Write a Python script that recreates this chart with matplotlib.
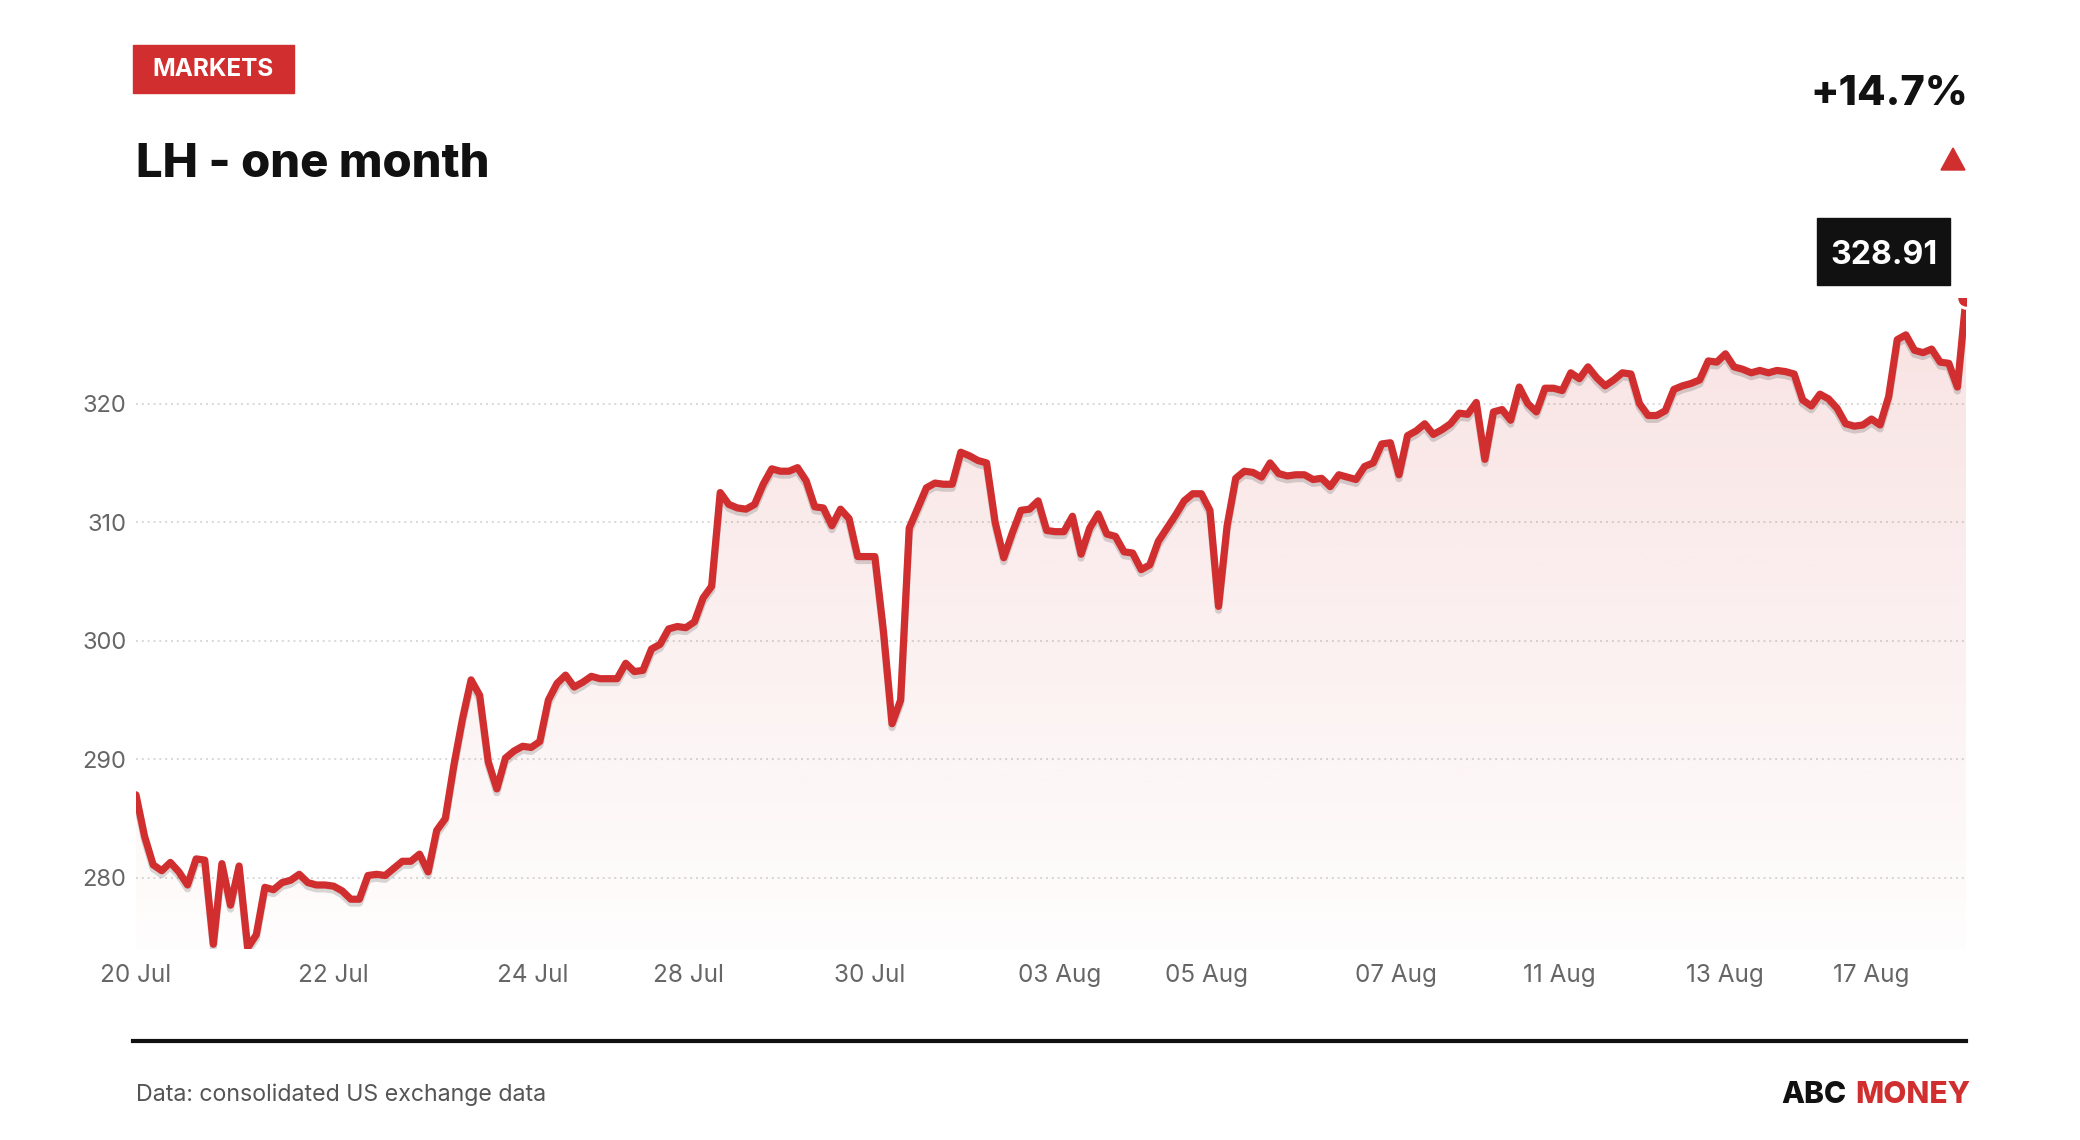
import numpy as np
import matplotlib.pyplot as plt
import matplotlib.patheffects as pe
from matplotlib.patches import Rectangle, Polygon
from matplotlib.colors import to_rgb

plt.rcParams['font.family'] = ['Inter', 'DejaVu Sans']

RED = '#d12f2f'
INK = '#111111'

# price series (one point per bar of the intraday feed)
price = [
    287.0, 283.5, 281.1, 280.6, 281.3, 280.5, 279.4, 281.6, 281.5, 274.4,
    281.2, 277.7, 281.0, 274.1, 275.2, 279.2, 279.0, 279.6, 279.8, 280.3,
    279.6, 279.4, 279.4, 279.3, 278.9, 278.2, 278.2, 280.2, 280.3, 280.2,
    280.8, 281.4, 281.4, 282.0, 280.5, 284.0, 285.0, 289.5, 293.4, 296.7,
    295.4, 289.8, 287.5, 290.1, 290.7, 291.1, 291.0, 291.5, 295.0, 296.4,
    297.1, 296.1, 296.5, 297.0,
    296.8, 296.8, 296.8, 298.1, 297.4, 297.5, 299.3, 299.7, 301.0, 301.2,
    301.1, 301.6, 303.6, 304.6, 312.5, 311.5, 311.2, 311.1, 311.5, 313.2,
    314.5, 314.3, 314.3, 314.6, 313.5, 311.3, 311.2, 309.7, 311.1, 310.3,
    307.1, 307.1, 307.1, 300.8, 293.0, 295.0, 309.5, 311.2, 312.9, 313.3,
    313.2, 313.2, 315.9, 315.6, 315.2, 315.0, 310.0, 307.0, 309.1, 311.0,
    311.1, 311.8, 309.3, 309.2,
    309.2, 310.5, 307.3, 309.5, 310.7, 309.0, 308.8, 307.5, 307.4, 306.0,
    306.4, 308.4, 309.5, 310.6, 311.8, 312.4, 312.4, 311.0, 302.9, 309.7,
    313.7, 314.3, 314.2, 313.8, 315.0, 314.1, 313.9, 314.0, 314.0, 313.6,
    313.7, 313.0, 314.0, 313.8, 313.6, 314.7, 315.0, 316.6, 316.7, 314.0,
    317.3, 317.7, 318.3, 317.4, 317.8, 318.3, 319.2, 319.1, 320.1, 315.3,
    319.3, 319.5, 318.6, 321.4,
    320.0, 319.3, 321.3, 321.3, 321.1, 322.6, 322.1, 323.1, 322.2, 321.5,
    322.0, 322.6, 322.5, 320.0, 319.0, 319.0, 319.4, 321.2, 321.5, 321.7,
    322.0, 323.6, 323.5, 324.2, 323.1, 322.9, 322.6, 322.8, 322.6, 322.8,
    322.7, 322.5, 320.3, 319.8, 320.8, 320.4, 319.6, 318.3, 318.1, 318.2,
    318.7, 318.2, 320.6, 325.4, 325.8, 324.5, 324.3, 324.6, 323.5, 323.4,
    321.4, 328.91,
]

tick_pos = [0, 23, 46.2, 64.3, 85.4, 107.5, 124.6, 146.6, 165.7, 184.9, 202]
tick_labels = ['20 Jul', '22 Jul', '24 Jul', '28 Jul', '30 Jul', '03 Aug',
               '05 Aug', '07 Aug', '11 Aug', '13 Aug', '17 Aug']
y_ticks = [280, 290, 300, 310, 320]
y_min = 274

title = 'LH - one month'
change = '+14.7%'
last_label = '328.91'

W, H = 2080, 1140
fig = plt.figure(figsize=(W / 100, H / 100), dpi=100)


def fx(px):
    return px / W


def fy(py):
    return 1 - py / H


ax = fig.add_axes([fx(136), fy(949), fx(1966) - fx(136), fy(298) - fy(949)])

x = np.arange(len(price))
y = np.array(price)
y_max = y[-1]

# gradient under the line
grad = np.zeros((256, 1, 4))
grad[..., :3] = to_rgb(RED)
grad[:, 0, 3] = np.linspace(0.01, 0.14, 256)
im = ax.imshow(grad, extent=[x[0], x[-1], y_min, y_max], origin='lower',
               aspect='auto', zorder=1, interpolation='bilinear')
area = Polygon(np.column_stack([np.r_[x[0], x, x[-1]], np.r_[y_min, y, y_min]]),
               facecolor='none', edgecolor='none', transform=ax.transData)
ax.add_patch(area)
im.set_clip_path(area)

ax.plot(x, y, color=RED, lw=5.2, solid_joinstyle='round', solid_capstyle='round',
        zorder=3, path_effects=[pe.SimpleLineShadow(offset=(0, -2.8), shadow_color='black', alpha=0.15),
                                pe.Normal()])
ax.plot(x[-1], y[-1], 'o', ms=14, color=RED, mec='white', mew=2.2, zorder=4)

ax.set_xlim(x[0], x[-1])
ax.set_ylim(y_min, y_max)
ax.set_yticks(y_ticks)
ax.set_xticks(tick_pos)
ax.set_xticklabels(tick_labels)
ax.grid(axis='y', color='#d8d8d8', lw=1.4, linestyle=(0, (1, 2)))
ax.grid(axis='x', visible=False)
ax.set_axisbelow(True)
for s in ax.spines.values():
    s.set_visible(False)
ax.tick_params(axis='both', length=0, labelcolor='#666666')
ax.tick_params(axis='y', pad=7, labelsize=17)
ax.tick_params(axis='x', pad=11, labelsize=17.5)

# header
fig.patches.append(Rectangle((fx(133), fy(93)), fx(294) - fx(133), (93 - 45) / H,
                             transform=fig.transFigure, color=RED))
fig.text(fx(213.5), fy(69), 'MARKETS', ha='center', va='center', color='white',
         size=17.5, weight='bold')
fig.text(fx(136), fy(177), title, ha='left', va='baseline', size=34, weight='heavy', color=INK)
fig.text(fx(1968), fy(105), change, ha='right', va='baseline', size=30, weight='heavy', color=INK)
fig.patches.append(Polygon([(fx(1941), fy(170)), (fx(1965), fy(170)), (fx(1953), fy(148))],
                           closed=True, transform=fig.transFigure, color=RED))

# last value tag
fig.patches.append(Rectangle((fx(1817), fy(285)), fx(1950) - fx(1817), (285 - 218) / H,
                             transform=fig.transFigure, color=INK))
fig.text(fx(1883.5), fy(252), last_label, ha='center', va='center_baseline',
         color='white', size=23, weight='bold')

# footer
fig.add_artist(plt.Line2D([fx(133), fx(1966)], [fy(1041), fy(1041)], color=INK, lw=3))
fig.text(fx(136), fy(1095), 'Data: consolidated US exchange data', ha='left', va='center',
         size=16.7, color='#555555')
money = fig.text(fx(1970), fy(1095), 'MONEY', ha='right', va='center', size=21.5,
                 weight='heavy', color=RED)
ax.annotate('ABC', xy=(0, 0.5), xycoords=money, xytext=(-6, 0), textcoords='offset points',
            ha='right', va='center', size=21.5, weight='heavy', color=INK)

plt.savefig('out.png', dpi=100)
